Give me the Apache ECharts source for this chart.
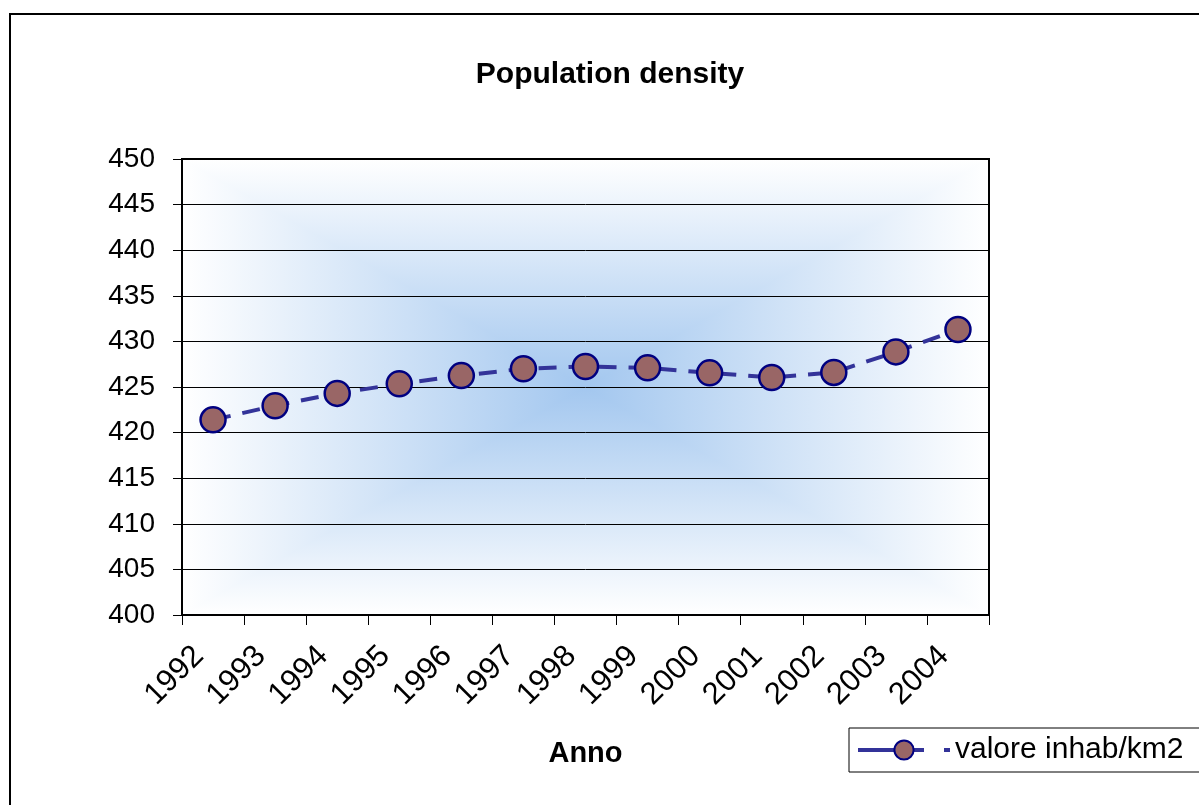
<!DOCTYPE html>
<html>
<head>
<meta charset="utf-8">
<script src="https://cdn.jsdelivr.net/npm/echarts@6/dist/echarts.min.js"></script>
<style>
html,body{margin:0;padding:0;background:#fff;}
#chart{width:1199px;height:805px;}
</style>
</head>
<body>
<div id="chart"></div>
<script>
const years = ['1992','1993','1994','1995','1996','1997','1998','1999','2000','2001','2002','2003','2004'];
const density = [421.4, 422.95, 424.3, 425.35, 426.25, 427.0, 427.25, 427.1, 426.55, 426.05, 426.6, 428.85, 431.3];
const seriesName = 'valore inhab/km2';
const chartTitle = 'Population density';
const xAxisTitle = 'Anno';

const FONT = '"Liberation Sans", Arial, sans-serif';
const G = {left: 182, top: 159, width: 807, height: 456};
const CENTER = '#a3c7ef';
const cx = G.left + G.width / 2, cy = G.top + G.height / 2;
const L = G.left, R = G.left + G.width, T = G.top, B = G.top + G.height;

function tri(points, x1, y1, x2, y2) {
  return {type: 'polygon', z: -5, silent: true, shape: {points: points},
    style: {fill: new echarts.graphic.LinearGradient(x1, y1, x2, y2, [
      {offset: 0, color: '#ffffff'}, {offset: 1, color: CENTER}], true), stroke: null}};
}

const chart = echarts.init(document.getElementById('chart'));
chart.setOption({
  backgroundColor: '#fff',
  animation: false,
  title: {
    text: chartTitle,
    left: 605, top: 55, textAlign: 'center',
    textStyle: {fontFamily: FONT, fontSize: 30, fontWeight: 'bold', color: '#000'}
  },
  graphic: [
    {type: 'rect', z: -10, silent: true, shape: {x: 10, y: 14, width: 1300, height: 900},
     style: {fill: 'none', stroke: '#000', lineWidth: 2}},
    {type: 'rect', z: -6, silent: true, shape: {x: L, y: T, width: G.width, height: G.height},
     style: {fill: new echarts.graphic.LinearGradient(L, cy, R, cy, [
       {offset: 0, color: '#ffffff'}, {offset: 0.5, color: CENTER}, {offset: 1, color: '#ffffff'}], true)}},
    tri([[L, T], [R, T], [cx, cy]], cx, T, cx, cy),
    tri([[L, B], [R, B], [cx, cy]], cx, B, cx, cy)
  ],
  legend: {
    left: 849, top: 728,
    orient: 'horizontal',
    padding: [7, 60, 7, 7],
    borderColor: '#000', borderWidth: 1,
    itemWidth: 92, itemHeight: 24, itemGap: 10,
    lineStyle: {type: [66, 20], width: 4},
    textStyle: {fontFamily: FONT, fontSize: 30, color: '#000'},
    data: [seriesName]
  },
  grid: {
    left: G.left, top: G.top, width: G.width, height: G.height,
    show: true, borderColor: '#000', borderWidth: 2, backgroundColor: 'transparent'
  },
  xAxis: {
    type: 'category', data: years, boundaryGap: true,
    name: xAxisTitle, nameLocation: 'middle', nameGap: 124,
    nameTextStyle: {fontFamily: FONT, fontSize: 29, fontWeight: 'bold', color: '#000'},
    axisLine: {lineStyle: {color: '#000', width: 2}},
    axisTick: {show: true, interval: 0, length: 10, lineStyle: {color: '#000', width: 1}},
    axisLabel: {interval: 0, rotate: 45, margin: 22, padding: [0, 20, 0, 0],
      fontFamily: FONT, fontSize: 31, color: '#000'},
    splitLine: {show: false}
  },
  yAxis: {
    type: 'value', min: 400, max: 450, interval: 5,
    axisLine: {show: true, lineStyle: {color: '#000', width: 2}},
    axisTick: {show: true, length: 9, lineStyle: {color: '#000', width: 1}},
    axisLabel: {margin: 27, fontFamily: FONT, fontSize: 28, color: '#000'},
    splitLine: {show: true, lineStyle: {color: '#000', width: 1}}
  },
  series: [{
    name: seriesName, type: 'line', data: density,
    symbol: 'circle', symbolSize: 25,
    lineStyle: {color: '#333399', width: 4, type: [18, 12]},
    itemStyle: {color: '#996666', borderColor: '#000080', borderWidth: 2.5},
    z: 5
  }]
});
</script>
</body>
</html>
